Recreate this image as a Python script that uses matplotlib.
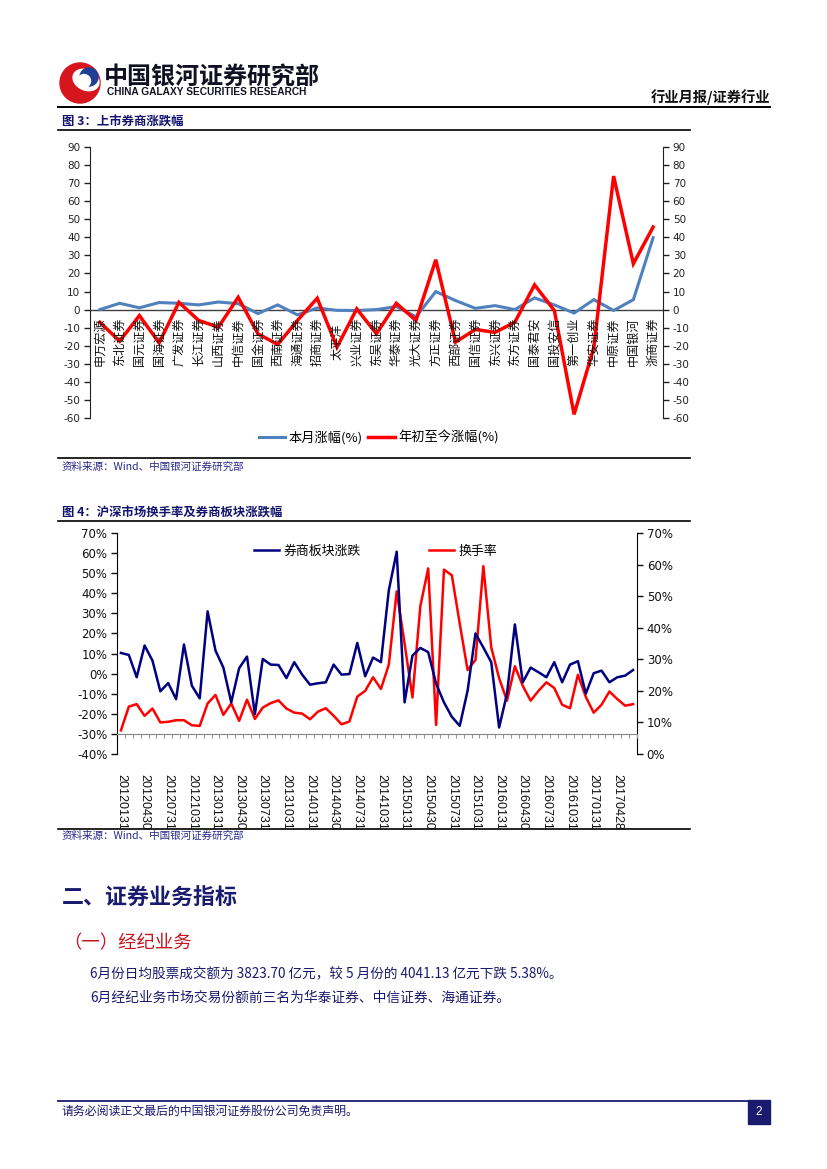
import matplotlib
matplotlib.use("Agg")
import matplotlib.pyplot as plt
from matplotlib.patches import Circle, Ellipse, Rectangle
from matplotlib.transforms import offset_copy

plt.rcParams['font.family'] = ['DejaVu Sans', 'Noto Sans CJK SC']
plt.rcParams['axes.unicode_minus'] = False

CJK = ['Noto Sans CJK SC', 'DejaVu Sans']
NAVY = '#14146e'

# chart 3: listed brokers
brokers = ['申万宏源', '东北证券', '国元证券', '国海证券', '广发证券', '长江证券', '山西证券',
           '中信证券', '国金证券', '西南证券', '海通证券', '招商证券', '太平洋', '兴业证券',
           '东吴证券', '华泰证券', '光大证券', '方正证券', '西部证券', '国信证券', '东兴证券',
           '东方证券', '国泰君安', '国投安信', '第一创业', '华安证券', '中原证券', '中国银河',
           '浙商证券']
month_chg = [0, 3.5, 1, 3.9, 3.5, 2.6, 4.2, 3.3, -2.2, 2.6, -2.9, 0.9, -0.4, -0.5, 0,
             1.7, -4, 10, 5, 0.7, 2.2, 0, 6.5, 2.6, -1.9, 5.5, -0.5, 5.5, 39.8]
ytd_chg = [-7, -17.5, -3.3, -18.4, 4, -6, -9.7, 6.8, -13.4, -19.3, -6, 6.3, -20.8, 0.4,
           -13.4, 3.5, -6, 27.6, -18, -11, -12.6, -7, 13.7, -0.5, -58, -21, 73.9, 25.4, 45.7]

# chart 4: monthly, 2012-01 .. 2017-06
date_labels = ['20120131', '20120430', '20120731', '20121031', '20130131', '20130430',
               '20130731', '20131031', '20140131', '20140430', '20140731', '20141031',
               '20150131', '20150430', '20150731', '20151031', '20160131', '20160430',
               '20160731', '20161031', '20170131', '20170428']
sector_chg = [10.3, 9.3, -1.8, 14, 6.5, -8.8, -4.7, -12.7, 14.5, -6,
              -12.3, 31, 11.5, 3, -14.3, 2.7, 8.5, -20.2, 7.3, 4.5,
              4.3, -2.2, 5.7, -0.5, -5.5, -4.8, -4.3, 4.5, -0.5, -0.2,
              15.3, -1.3, 8, 5.7, 41.5, 60.7, -14.3, 9, 12.8, 10.7,
              -5, -14.3, -21.5, -26, -8.5, 20, 13, 5.7, -26.8, -10,
              24.5, -4.3, 3, 0.7, -1.8, 5.7, -4.3, 4.5, 6.2, -10,
              0.2, 1.5, -4.3, -1.8, -1, 1.8]
turnover = [7.5, 15, 15.8, 12.1, 14.4, 10, 10.2, 10.7, 10.7, 9.1,
            8.9, 16, 18.7, 12.4, 16, 10.5, 17.2, 11.1, 14.7, 16.1,
            17, 14.4, 13.1, 12.8, 11, 13.4, 14.5, 12.1, 9.4, 10.3,
            18.2, 20, 24.3, 20.6, 28.3, 51.5, 35, 17.9, 46.8, 58.8,
            9.2, 58.4, 56.6, 41.3, 26.6, 29.8, 59.5, 33.8, 24, 16.9,
            27.8, 21.6, 16.9, 20, 22.7, 20.9, 15.6, 14.5, 25.1, 18.1,
            13.1, 15.6, 19.8, 17.4, 15.3, 15.8]

W, H = 827, 1169
fig = plt.figure(figsize=(W / 100, H / 100), dpi=100)


def rect(x0, y0, x1, y1):
    return [x0 / W, 1 - y1 / H, (x1 - x0) / W, (y1 - y0) / H]


def fx(x):
    return x / W


def fy(y):
    return 1 - y / H


# page background layer in pixel coordinates
bg = fig.add_axes([0, 0, 1, 1])
bg.set_xlim(0, W)
bg.set_ylim(H, 0)
bg.axis('off')

# logo
bg.add_patch(Circle((80, 83), 20, color='#d7151d'))
bg.add_patch(Ellipse((86, 80), 27, 20, angle=25, color='white'))
bg.add_patch(Circle((89, 77), 9, color='#1d3f94'))
bg.add_patch(Circle((84, 81), 6.5, color='white'))
fig.text(fx(104), fy(77), '中国银河证券研究部', family=CJK, fontsize=17.3, fontweight='bold',
         color='#111122', va='center')
fig.text(fx(107), fy(92), 'CHINA GALAXY SECURITIES RESEARCH', family='Liberation Sans',
         fontsize=7.3, fontweight='bold', color='#111122', va='center')
fig.text(fx(770), fy(97), '行业月报/证券行业', family=CJK, fontsize=10.3, fontweight='bold',
         color='#111111', ha='right', va='center')
bg.plot([58, 770], [107, 107], color='black', lw=1.4)

# chart 3 frame
fig.text(fx(62), fy(122), '图 3：上市券商涨跌幅', family=CJK, fontsize=8.9, fontweight='bold',
         color=NAVY, va='center')
bg.plot([58, 690], [130, 130], color='black', lw=1.2)
bg.plot([58, 690], [458, 458], color='black', lw=1.2)
fig.text(fx(62), fy(467), '资料来源：Wind、中国银河证券研究部', family=CJK, fontsize=7.6,
         style='italic', color='#2a2a8a', va='center')

ax1 = fig.add_axes(rect(90, 147, 663, 418))
ax1.set_facecolor('none')
x1 = list(range(len(brokers)))
l_month, = ax1.plot(x1, month_chg, color='#4f81bd', lw=2.2, solid_joinstyle='miter')
l_ytd, = ax1.plot(x1, ytd_chg, color='#ff0000', lw=2.5, solid_joinstyle='miter')
ax1.axhline(0, color='#404040', lw=1, zorder=1)
ax1.set_xlim(-0.5, len(brokers) - 0.5)
ax1.set_ylim(-60, 90)
ax1.set_yticks(range(-60, 91, 10))
ax1.set_xticks([])
for s in ['top', 'bottom', 'right']:
    ax1.spines[s].set_visible(False)
ax1.spines['left'].set_color('#222222')
ax1.tick_params(axis='y', direction='out', length=4, width=1, labelsize=7.5, pad=3,
                colors='#222222')
ax1b = ax1.twinx()
ax1b.set_ylim(-60, 90)
ax1b.set_yticks(range(-60, 91, 10))
for s in ['top', 'bottom', 'left']:
    ax1b.spines[s].set_visible(False)
ax1b.spines['right'].set_color('#222222')
ax1b.tick_params(axis='y', direction='out', length=4, width=1, labelsize=7.5, pad=3,
                 colors='#222222')
lab_tr = offset_copy(ax1.transData, fig=fig, y=-32, units='dots')
for i, name in enumerate(brokers):
    ax1.text(i, 0, name, rotation=90, ha='center', va='center', family=CJK,
             fontsize=8.7, color='#111111', transform=lab_tr)
fig.legend([l_month, l_ytd], ['本月涨幅(%)', '年初至今涨幅(%)'], loc='center',
           bbox_to_anchor=(fx(379), fy(438)), ncol=2, frameon=False,
           prop={'family': CJK, 'size': 9.5}, handlelength=2.0, handletextpad=0.3,
           columnspacing=0.4)

# chart 4 frame
fig.text(fx(62), fy(513), '图 4：沪深市场换手率及券商板块涨跌幅', family=CJK, fontsize=8.9,
         fontweight='bold', color=NAVY, va='center')
bg.plot([58, 690], [521, 521], color='black', lw=1.2)
bg.plot([58, 690], [829, 829], color='black', lw=1.2)
fig.text(fx(62), fy(836), '资料来源：Wind、中国银河证券研究部', family=CJK, fontsize=7.6,
         style='italic', color='#2a2a8a', va='center')

ax2 = fig.add_axes(rect(117, 533, 637, 754))
ax2.set_facecolor('none')
x2 = list(range(len(sector_chg)))
l_sec, = ax2.plot(x2, sector_chg, color='#000080', lw=1.8)
ax2.set_xlim(-0.5, len(sector_chg) - 0.5)
ax2.set_ylim(-40, 70)
ax2.set_yticks(range(-40, 71, 10))
ax2.set_yticklabels([f'{v}%' for v in range(-40, 71, 10)])
ax2.spines['top'].set_visible(False)
ax2.spines['right'].set_visible(False)
ax2.spines['bottom'].set_position(('data', -30))
ax2.spines['bottom'].set_color('#888888')
ax2.set_xticks([k - 0.5 for k in range(len(sector_chg) + 1)])
ax2.set_xticklabels([])
ax2.tick_params(axis='x', direction='out', length=3, width=0.8, colors='#999999')
ax2.tick_params(axis='y', direction='out', length=4, width=1, labelsize=8.5, pad=3,
                colors='#111111')
ax2b = ax2.twinx()
l_turn, = ax2b.plot(x2, turnover, color='#ff0000', lw=1.8)
ax2b.set_ylim(0, 70)
ax2b.set_yticks(range(0, 71, 10))
ax2b.set_yticklabels([f'{v}%' for v in range(0, 71, 10)])
for s in ['top', 'bottom', 'left']:
    ax2b.spines[s].set_visible(False)
ax2b.tick_params(axis='y', direction='out', length=4, width=1, labelsize=8.5, pad=3,
                 colors='#111111')
ax2.set_zorder(ax2b.get_zorder() + 1)
date_tr = offset_copy(ax2.transData, fig=fig, y=-20, units='dots')
for k, lab in enumerate(date_labels):
    ax2.text(k * 3, -40, lab, rotation=270, ha='center', va='top', family='Liberation Sans',
             fontsize=9, color='#111111', transform=date_tr)
fig.legend([l_sec], ['券商板块涨跌'], loc='center left', bbox_to_anchor=(fx(242), fy(551)),
           frameon=False, prop={'family': CJK, 'size': 9.3}, handlelength=2.0,
           handletextpad=0.3)
fig.legend([l_turn], ['换手率'], loc='center left', bbox_to_anchor=(fx(417), fy(551)),
           frameon=False, prop={'family': CJK, 'size': 9.3}, handlelength=2.0,
           handletextpad=0.3)

# text section
fig.text(fx(62), fy(898), '二、证券业务指标', family=CJK, fontsize=15.8, fontweight='bold',
         color='#1a1a6e', va='center')
fig.text(fx(63), fy(943), '（一）经纪业务', family=CJK, fontsize=13.2, color='#c8141e',
         va='center')
fig.text(fx(90), fy(973), '6月份日均股票成交额为 3823.70 亿元，较 5 月份的 4041.13 亿元下跌 5.38%。',
         family=CJK, fontsize=9.8, color='#1a1a6e', va='center')
fig.text(fx(90), fy(998), '6月经纪业务市场交易份额前三名为华泰证券、中信证券、海通证券。',
         family=CJK, fontsize=9.9, color='#1a1a6e', va='center')

# footer
bg.plot([58, 748], [1101, 1101], color='#1a1a6e', lw=1.3)
bg.add_patch(Rectangle((748, 1100), 22, 24, color='#1a1a6e'))
fig.text(fx(759), fy(1112), '2', fontsize=8.5, color='white', ha='center', va='center',
         family='Liberation Sans')
fig.text(fx(62), fy(1112), '请务必阅读正文最后的中国银河证券股份公司免责声明。', family=CJK,
         fontsize=8.6, color='#1a1a6e', va='center')

fig.savefig('out.png', dpi=100)
